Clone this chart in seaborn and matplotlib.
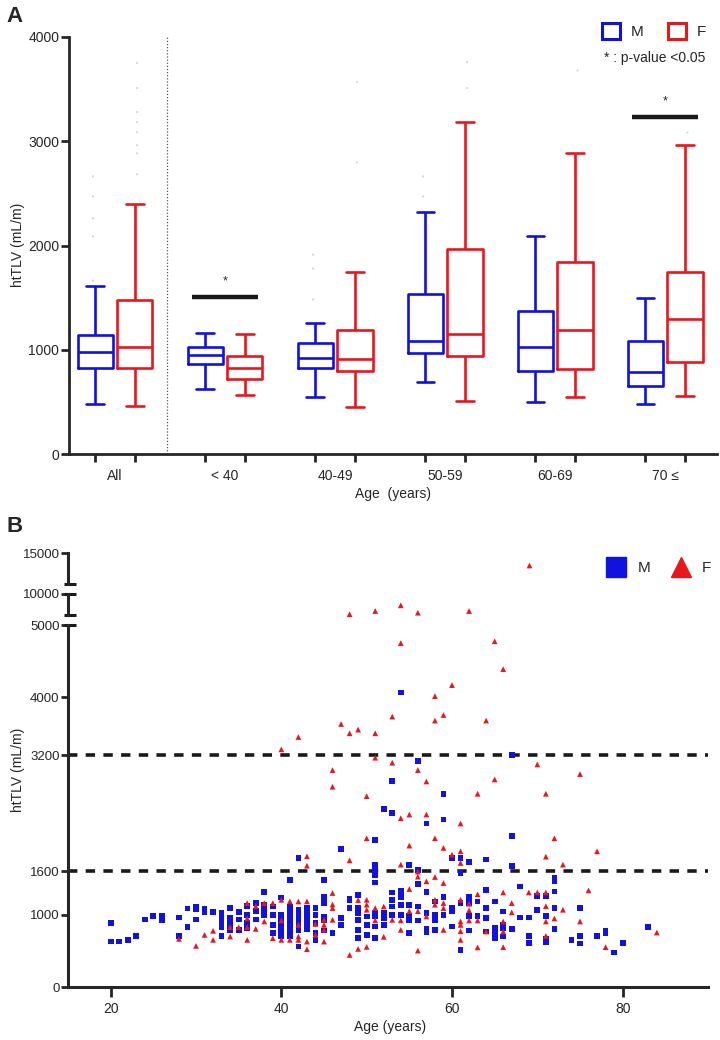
import numpy as np
import pandas as pd
import matplotlib
matplotlib.use("Agg")
import matplotlib.pyplot as plt
import seaborn as sns
from matplotlib.patches import Patch
from matplotlib.lines import Line2D

sns.set_theme(style="ticks")
plt.rcParams["font.family"] = ["Liberation Sans", "DejaVu Sans"]

BLUE = "#1111E0"
RED = "#E8171D"

# ---------------- Panel A data ----------------
groups = ["All", "< 40", "40-49", "50-59", "60-69", "70 \u2264"]
# five-number summaries [min, q1, median, q3, max]
box_m = [
    [481, 827, 981, 1144, 1615],
    [625, 865, 952, 1029, 1163],
    [548, 827, 923, 1067, 1260],
    [692, 971, 1087, 1538, 2317],
    [500, 798, 1029, 1375, 2087],
    [481, 654, 788, 1087, 1500],
]
box_f = [
    [462, 827, 1029, 1481, 2394],
    [567, 721, 827, 942, 1154],
    [452, 798, 913, 1192, 1750],
    [510, 942, 1154, 1962, 3183],
    [548, 817, 1192, 1846, 2885],
    [558, 885, 1298, 1750, 2962],
]
# faint outlier dots
out_group = ["All"] * 5 + ["All"] * 8 + ["40-49"] * 3 + ["40-49"] * 2 + ["50-59"] * 2 + ["50-59"] * 2 + ["60-69"] + ["70 \u2264"]
out_sex = ["M"] * 5 + ["F"] * 8 + ["M"] * 3 + ["F"] * 2 + ["M"] * 2 + ["F"] * 2 + ["F"] + ["F"]
out_val = [2663, 2470, 2260, 2087, 1663,
           3750, 3510, 3280, 3183, 3087, 2962, 2885, 2683,
           1913, 1779, 1481,
           3567, 2798,
           2663, 2471,
           3760, 3510,
           3683,
           3087]
sig_groups = [1, 5]
sig_heights = [1510, 3230]

# ---------------- Panel B data ----------------
m_age = [20, 20, 21, 22, 23, 24, 25, 26, 26, 28, 28, 29, 29, 30, 30, 30, 31, 31, 32,
         33, 33, 33, 33, 33, 34, 34, 34, 34, 35, 35, 35, 36, 36, 36, 36, 37, 37, 37,
         38, 38, 38, 38, 39, 39, 39, 39, 40, 40, 40, 40, 40, 40,
         41, 41, 41, 41, 41, 41, 41, 41, 42, 42, 42, 42, 42, 42, 42,
         43, 43, 43, 43, 43, 44, 44, 44, 44, 44, 45, 45, 45, 45, 45, 45, 46,
         47, 47, 47, 48, 48, 48, 49, 49, 49, 49, 49, 49, 50, 50, 50,
         51, 51, 51, 51, 51, 51, 51, 51, 51, 52, 52, 52, 52,
         53, 53, 53, 53, 53, 53, 54, 54, 54, 54, 54, 55, 55, 55, 55, 55,
         56, 56, 56, 56, 56, 57, 57, 57, 57, 57, 58, 58, 58, 58, 59, 59, 59, 59,
         60, 60, 60, 60, 61, 61, 61, 61, 62, 62, 62, 62, 62, 63, 63,
         64, 64, 64, 64, 64, 65, 65, 65, 65, 66, 66, 66, 66, 67, 67, 67, 67,
         68, 68, 69, 69, 69, 70, 70, 71, 71, 71, 71, 72, 72, 72, 72, 72,
         74, 75, 75, 75, 77, 78, 78, 79, 80, 83]
m_val = [882, 627, 627, 651, 706, 932, 983, 983, 917, 960, 706, 1085, 831, 1112, 1070, 932, 1085, 1030, 1039,
         1030, 960, 880, 830, 706, 1090, 951, 872, 789, 1039, 932, 789, 1118, 993, 886, 812, 1159, 1048, 932,
         1316, 1137, 1067, 997, 1112, 997, 858, 742, 1237, 997, 932, 858, 789, 706,
         1482, 1112, 1040, 970, 900, 830, 760, 700, 1782, 1066, 997, 928, 858, 789, 558,
         1090, 1020, 950, 880, 800, 1090, 997, 882, 743, 651, 1473, 1247, 1159, 974, 920, 780, 743,
         1907, 950, 858, 1219, 1201, 1090, 1274, 1090, 1020, 928, 789, 674, 974, 858, 720,
         2031, 1690, 1620, 1551, 1445, 1020, 974, 835, 674, 2461, 1020, 950, 858,
         2844, 2406, 1307, 1205, 1112, 997, 4068, 1330, 1247, 1137, 997, 1690, 1137, 983, 920, 742,
         3120, 1620, 1422, 1112, 920, 2258, 1316, 1020, 800, 760, 1180, 997, 919, 789, 2669, 2313, 1247, 997,
         1782, 1090, 1050, 835, 1782, 1574, 1159, 512, 1722, 1247, 1159, 983, 780, 1182, 983,
         1760, 1343, 1090, 950, 766, 1182, 812, 743, 674, 1043, 858, 812, 697, 3203, 2082, 1676, 803,
         1389, 960, 960, 706, 605, 1260, 1066, 1260, 983, 660, 620, 1505, 1459, 1320, 1090, 803,
         651, 1090, 706, 600, 706, 780, 742, 475, 605, 826]
f_age = [28, 30, 31, 32, 32, 34, 34, 35, 36, 36, 36, 36, 37, 37, 38, 38, 39, 39,
         40, 40, 40, 40, 41, 41, 42, 42, 42, 42, 42, 43, 43, 43, 43, 43, 44, 44,
         45, 45, 45, 45, 46, 46, 46, 46, 46, 46, 47, 48, 48, 48, 48, 49, 49, 49,
         50, 50, 50, 50, 50, 50, 51, 51, 51, 51, 51, 52, 52, 53, 53, 53,
         54, 54, 54, 54, 54, 54, 55, 55, 55, 55, 56, 56, 56, 56, 56, 56,
         57, 57, 57, 57, 58, 58, 58, 58, 58, 58, 59, 59, 59, 59, 59, 59, 60, 60,
         61, 61, 61, 61, 61, 61, 61, 61, 62, 62, 62, 62, 63, 63, 63, 63, 64, 64, 65, 65,
         66, 66, 66, 66, 66, 67, 67, 69, 69, 70, 70, 71, 71, 71, 71, 71, 71, 72, 72, 73, 73,
         75, 75, 76, 77, 78, 84]
f_val = [665, 568, 720, 776, 651, 826, 697, 826, 1159, 947, 826, 651, 1118, 803, 1159, 905, 1159, 674,
         3282, 1205, 919, 651, 1182, 651, 3453, 1182, 858, 697, 651, 1805, 1676, 1182, 627, 522, 870, 720,
         928, 858, 789, 627, 2996, 2766, 1298, 1140, 1090, 928, 3633, 5200, 3504, 1749, 443, 3555, 1201, 526,
         2636, 2054, 1205, 1137, 1067, 554, 5950, 3504, 3167, 1090, 919, 1112, 693, 3735, 3098, 928,
         7300, 4750, 2332, 1690, 920, 789, 2382, 1953, 1353, 1048, 5550, 2996, 1594, 1524, 1048, 503,
         2839, 2382, 1459, 974, 4017, 3680, 2054, 1519, 1205, 1137, 3757, 1921, 1436, 1159, 1090, 789, 4170, 1828,
         2258, 1874, 1713, 1205, 905, 858, 770, 651, 5950, 1150, 1060, 919, 2669, 1280, 919, 547, 3680, 766, 4775, 2867,
         4390, 1306, 905, 766, 550, 1159, 1030, 13000, 1306, 3075, 1306, 2669, 1800, 1306, 1116, 905, 706, 2054, 946, 1690, 1067,
         2941, 905, 1334, 1874, 550, 752]
threshold_lines = [1600, 3200]
segments = [(0, 5000), (5000, 10000), (10000, 15000)]
segment_ticks = [[0, 1000, 1600, 3200, 4000, 5000], [10000], [15000]]

W, H = 720, 1040
fig = plt.figure(figsize=(7.2, 10.4), dpi=100)

# ================= Panel A =================
axA = fig.add_axes([69 / W, 1 - 454 / H, 648 / W, 417 / H])
rows = []
for g, m, f in zip(groups, box_m, box_f):
    rows += [(g, "M", v) for v in m]
    rows += [(g, "F", v) for v in f]
dfA = pd.DataFrame(rows, columns=["group", "sex", "htTLV"])
dfO = pd.DataFrame({"group": out_group, "sex": out_sex, "htTLV": out_val})

sns.stripplot(data=dfO, x="group", y="htTLV", hue="sex", order=groups, hue_order=["M", "F"],
              palette={"M": "#d2d2ea", "F": "#ead2d2"}, dodge=True, jitter=False, size=1.6,
              legend=False, ax=axA)
sns.boxplot(data=dfA, x="group", y="htTLV", hue="sex", order=groups, hue_order=["M", "F"],
            palette={"M": BLUE, "F": RED}, fill=False, width=0.72, gap=0.11, whis=np.inf,
            linewidth=1.9, legend=False, ax=axA)

axA.set_xlim(-0.418, 5.47)
axA.set_ylim(0, 4000)
axA.set_yticks([0, 1000, 2000, 3000, 4000])
axA.set_xticks(range(len(groups)))
axA.set_xticklabels(groups)
axA.set_xticks([i + d for i in range(len(groups)) for d in (-0.18, 0.18)], minor=True)
axA.tick_params(axis="x", which="major", length=0, pad=11, labelsize=10)
axA.tick_params(axis="x", which="minor", length=6, width=2, direction="out")
axA.tick_params(axis="y", length=6, width=2, pad=1, labelsize=10)
axA.set_xlabel("")
axA.set_ylabel("")
for s in ["top", "right"]:
    axA.spines[s].set_visible(False)
for s in ["left", "bottom"]:
    axA.spines[s].set_linewidth(2)
axA.axvline(0.47, color="#555555", lw=0.9, ls=(0, (1, 1.5)))
for gi, h in zip(sig_groups, sig_heights):
    axA.plot([gi - 0.3, gi + 0.3], [h, h], color="k", lw=3.2, solid_capstyle="butt")
    axA.text(gi, h + 90, "*", ha="center", va="bottom", fontsize=9)

fig.text(18 / W, 1 - 245 / H, "htTLV (mL/m)", rotation=90, ha="center", va="center", fontsize=10)
fig.text(393 / W, 1 - 494 / H, "Age  (years)", ha="center", va="center", fontsize=10)
fig.text(6 / W, 1 - 17 / H, "A", fontweight="bold", fontsize=16, ha="left", va="center")

fig.legend(handles=[Patch(facecolor="none", edgecolor=BLUE, lw=2.2),
                    Patch(facecolor="none", edgecolor=RED, lw=2.2)],
           labels=["M", "F"], loc="center", bbox_to_anchor=(654 / W, 1 - 31 / H),
           ncol=2, frameon=False, handlelength=1.2, handleheight=1.3,
           columnspacing=1.6, handletextpad=0.7, fontsize=11)
fig.text(604 / W, 1 - 58 / H, "* : p-value <0.05", ha="left", va="center", fontsize=10)

# ================= Panel B =================
dfB = pd.DataFrame({
    "age": m_age + f_age,
    "htTLV": m_val + f_val,
    "sex": ["M"] * len(m_age) + ["F"] * len(f_age),
})
ax1 = fig.add_axes([68 / W, 1 - 987 / H, 640 / W, 362 / H])
ax2 = fig.add_axes([68 / W, 1 - 615 / H, 640 / W, 21 / H])
ax3 = fig.add_axes([68 / W, 1 - 584 / H, 640 / W, 31 / H])
axes_b = [ax1, ax2, ax3]
for k, (ax, (lo, hi), ticks) in enumerate(zip(axes_b, segments, segment_ticks)):
    if k == 0:
        sub = dfB[dfB["htTLV"] <= hi]
    else:
        sub = dfB[(dfB["htTLV"] > lo) & (dfB["htTLV"] <= hi)]
    sns.scatterplot(data=sub, x="age", y="htTLV", hue="sex", style="sex",
                    hue_order=["M", "F"], style_order=["M", "F"],
                    markers={"M": "s", "F": "^"}, palette={"M": BLUE, "F": RED},
                    s=17, linewidth=0, legend=False, clip_on=False, ax=ax)
    ax.set_xlim(15, 90)
    ax.set_ylim(lo, hi)
    ax.set_yticks(ticks)
    ax.set_xlabel("")
    ax.set_ylabel("")
    ax.tick_params(axis="y", length=5, width=2, pad=1, labelsize=9.5)
    ax.spines["top"].set_visible(False)
    ax.spines["right"].set_visible(False)
    ax.spines["left"].set_linewidth(2.2)
    ax.patch.set_alpha(0)

for yv in threshold_lines:
    ax1.axhline(yv, color="k", lw=2.6, ls=(0, (2.6, 2.3)), zorder=0)
ax1.set_xticks([20, 40, 60, 80])
ax1.tick_params(axis="x", length=7, width=2, pad=4, labelsize=10)
ax1.spines["bottom"].set_linewidth(2.2)
for ax in (ax2, ax3):
    ax.spines["bottom"].set_visible(False)
    ax.set_xticks([])

def cap(ax, yy):
    ax.plot([-0.006, 0.013], [yy, yy], transform=ax.transAxes, color="k", lw=2.2,
            clip_on=False, solid_capstyle="butt")

cap(ax1, 1)
cap(ax2, 0)
cap(ax2, 1)
cap(ax3, 0)

fig.text(18 / W, 1 - 770 / H, "htTLV (mL/m)", rotation=90, ha="center", va="center", fontsize=10)
fig.text(390 / W, 1 - 1027 / H, "Age (years)", ha="center", va="center", fontsize=10)
fig.text(6 / W, 1 - 527 / H, "B", fontweight="bold", fontsize=16, ha="left", va="center")

fig.legend(handles=[Line2D([], [], marker="s", color=BLUE, ls="", markersize=14),
                    Line2D([], [], marker="^", color=RED, ls="", markersize=15)],
           labels=["M", "F"], loc="center", bbox_to_anchor=(656 / W, 1 - 568 / H),
           ncol=2, frameon=False, columnspacing=1.0, handletextpad=0.4, fontsize=11)

fig.savefig("out.png", dpi=100)
